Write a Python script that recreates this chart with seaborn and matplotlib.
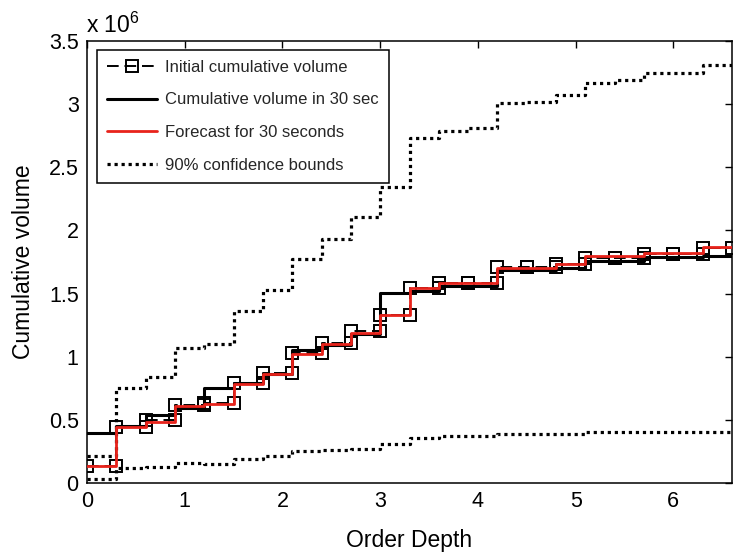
import numpy as np
import pandas as pd
import matplotlib
matplotlib.use("Agg")
import matplotlib.pyplot as plt
import seaborn as sns

# ---- data (values in units of 10^6) ----
edges = [0.0, 0.3, 0.6, 0.9, 1.2, 1.5, 1.8, 2.1, 2.4, 2.7, 3.0, 3.3,
         3.6, 3.9, 4.2, 4.5, 4.8, 5.1, 5.4, 5.7, 6.0, 6.3, 6.6]
initial = [0.135, 0.447, 0.50, 0.62, 0.63, 0.79, 0.87, 1.03, 1.11, 1.20, 1.333,
           1.545, 1.585, 1.585, 1.71, 1.71, 1.735, 1.78, 1.78, 1.815, 1.815, 1.86]
actual30 = [0.394, 0.455, 0.54, 0.59, 0.75, 0.79, 0.865, 1.055, 1.095, 1.18, 1.505,
            1.52, 1.56, 1.56, 1.685, 1.685, 1.70, 1.76, 1.76, 1.79, 1.79, 1.80]
forecast = [0.135, 0.447, 0.48, 0.61, 0.625, 0.78, 0.865, 1.02, 1.10, 1.19, 1.33,
            1.545, 1.585, 1.585, 1.70, 1.70, 1.735, 1.80, 1.80, 1.82, 1.82, 1.87]
upper = [0.21, 0.75, 0.84, 1.07, 1.10, 1.36, 1.53, 1.775, 1.93, 2.11, 2.34,
         2.73, 2.79, 2.81, 3.01, 3.02, 3.07, 3.17, 3.19, 3.25, 3.25, 3.31]
lower = [0.03, 0.12, 0.13, 0.16, 0.15, 0.19, 0.21, 0.25, 0.26, 0.27, 0.31,
         0.36, 0.37, 0.37, 0.39, 0.39, 0.39, 0.40, 0.40, 0.40, 0.40, 0.40]
xticks = [0, 1, 2, 3, 4, 5, 6]
yticks = [0, 0.5, 1, 1.5, 2, 2.5, 3, 3.5]


def step_frame(e, v):
    e = np.asarray(e, float)
    v = np.asarray(v, float)
    xs = np.repeat(e, 2)[1:-1]
    ys = np.repeat(v, 2)
    return pd.DataFrame({"x": xs, "y": ys})


sns.set_theme(style="white")
plt.rcParams["font.family"] = ["Liberation Sans", "DejaVu Sans"]
plt.rcParams["mathtext.fontset"] = "custom"
plt.rcParams["mathtext.rm"] = "Liberation Sans"
plt.rcParams["mathtext.it"] = "Liberation Sans"

fig = plt.figure(figsize=(7.36, 5.57), dpi=100)
ax = fig.add_axes([87 / 736, 1 - 483 / 557, (732 - 87) / 736, (483 - 41) / 557])

common = dict(x="x", y="y", estimator=None, sort=False, ax=ax)

sns.lineplot(data=step_frame(edges, upper), color="black", lw=2.3,
             linestyle=(0, (1, 1.2)), label="90% confidence bounds", zorder=2, **common)
sns.lineplot(data=step_frame(edges, lower), color="black", lw=2.3,
             linestyle=(0, (1, 1.2)), label="_nolegend_", zorder=2, **common)
sns.lineplot(data=step_frame(edges, actual30), color="black", lw=2.2,
             label="Cumulative volume in 30 sec", zorder=3, **common)
sns.lineplot(data=step_frame(edges, initial), color="black", lw=1.4,
             linestyle=(0, (6, 3)), marker="s", markersize=9, markerfacecolor="none",
             markeredgecolor="black", markeredgewidth=1.4,
             label="Initial cumulative volume", zorder=4, **common)
sns.lineplot(data=step_frame(edges, forecast), color="#e8231b", lw=2.0,
             label="Forecast for 30 seconds", zorder=5, **common)

ax.set_xlim(0, 6.6)
ax.set_ylim(0, 3.5)
ax.set_xticks(xticks)
ax.set_yticks(yticks)
ax.set_xticklabels([f"{t:g}" for t in xticks])
ax.set_yticklabels([f"{t:g}" for t in yticks])
ax.tick_params(direction="in", length=5, width=1, top=True, right=True,
               labelsize=15.5, colors="black", pad=6)
for s in ax.spines.values():
    s.set_color("black")
    s.set_linewidth(1.1)

ax.set_xlabel("Order Depth", fontsize=16.5, color="black", labelpad=12)
ax.set_ylabel("Cumulative volume", fontsize=16.5, color="black", labelpad=10)
fig.text(86 / 736, 1 - 33 / 557, r"x 10$^{6}$", fontsize=16.5, color="black",
         ha="left", va="baseline")

handles, labels = ax.get_legend_handles_labels()
order = ["Initial cumulative volume", "Cumulative volume in 30 sec",
         "Forecast for 30 seconds", "90% confidence bounds"]
hmap = dict(zip(labels, handles))
leg = ax.legend([hmap[o] for o in order], order, loc="upper left",
                bbox_to_anchor=((97 - 87) / 645, (483 - 50) / 442), borderaxespad=0,
                fontsize=12.0, frameon=True, fancybox=False, framealpha=1,
                edgecolor="black", handlelength=3.0, handletextpad=0.5,
                labelspacing=1.05, numpoints=1, borderpad=0.6)
leg.get_frame().set_linewidth(1.1)

fig.savefig("out.png", dpi=100)
